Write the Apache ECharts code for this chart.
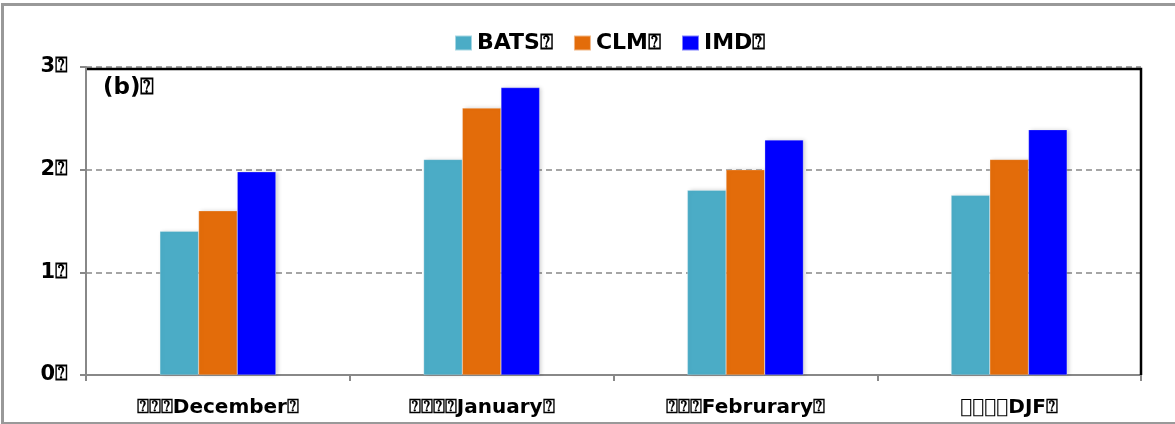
<!DOCTYPE html>
<html><head><meta charset="utf-8">
<script src="https://cdn.jsdelivr.net/npm/echarts@6/dist/echarts.min.js"></script>
<style>html,body{margin:0;padding:0;background:#fff}#c{width:1175px;height:424px}</style>
</head><body><div id="c"></div>
<script>
const categories = ['\u2370\u2370\u2370December\u2370', '\u2370\u2370\u2370\u2370January\u2370', '\u2370\u2370\u2370Februrary\u2370', '\uE000\uE000\uE000\uE000DJF\u2370'];
const seriesNames = ['BATS\u2370', 'CLM\u2370', 'IMD\u2370'];
const bats = [1.4, 2.1, 1.8, 1.75];
const clm = [1.6, 2.6, 2.0, 2.1];
const imd = [1.98, 2.8, 2.29, 2.39];
const yTicks = [0, 1, 2, 3];

const colors = ['#4BACC6', '#E36C0A', '#0000FF'];
const font = '"DejaVu Sans", sans-serif';
const chart = echarts.init(document.getElementById('c'), null, {renderer: 'canvas'});
const values = [bats, clm, imd];
chart.setOption({
  animation: false,
  textStyle: {fontFamily: font},
  legend: {
    top: 27, left: 449, icon: 'rect', itemWidth: 17, itemHeight: 15, itemGap: 20,
    textStyle: {fontSize: 22, fontWeight: 'bold', color: '#000', fontFamily: font},
    data: seriesNames
  },
  grid: {left: 86, right: 34, top: 67, bottom: 49},
  xAxis: {
    type: 'category', data: categories,
    axisLine: {lineStyle: {color: '#888', width: 2}},
    axisTick: {show: true, length: 6, lineStyle: {color: '#888', width: 2}},
    axisLabel: {margin: 23, fontSize: 20, fontWeight: 'bold', color: '#000', fontFamily: font}
  },
  yAxis: {
    type: 'value', min: 0, max: 3, interval: 1,
    axisLine: {show: true, lineStyle: {color: '#888', width: 2}},
    axisTick: {show: true, length: 6, lineStyle: {color: '#888', width: 2}},
    splitLine: {lineStyle: {color: '#888', type: [6, 4], width: 1.5}},
    axisLabel: {margin: 18, fontSize: 21, fontWeight: 'bold', color: '#000', fontFamily: font,
      formatter: v => yTicks.includes(v) ? v + '\u2370' : ''}
  },
  graphic: [
    {type: 'rect', left: 0, top: 2, silent: true, shape: {width: 1200, height: 419}, style: {fill: 'none', stroke: '#999', lineWidth: 3}},
    {type: 'polyline', silent: true, z: 100, shape: {points: [[87, 69], [1141, 69], [1141, 375]]}, style: {fill: 'none', stroke: '#000', lineWidth: 2.5}},
    {type: 'text', left: 103, top: 77, style: {text: '(b)\u2370', font: 'bold 23px ' + font, fill: '#000'}}
  ],
  series: seriesNames.map((n, i) => ({
    name: n, type: 'bar', data: values[i], barGap: '0%', barCategoryGap: '56%',
    itemStyle: {color: colors[i], borderColor: 'rgba(255,255,255,0.5)', borderWidth: 0.5,
      shadowColor: 'rgba(0,0,0,0.18)', shadowBlur: 4, shadowOffsetX: 2}
  }))
});
</script></body></html>
